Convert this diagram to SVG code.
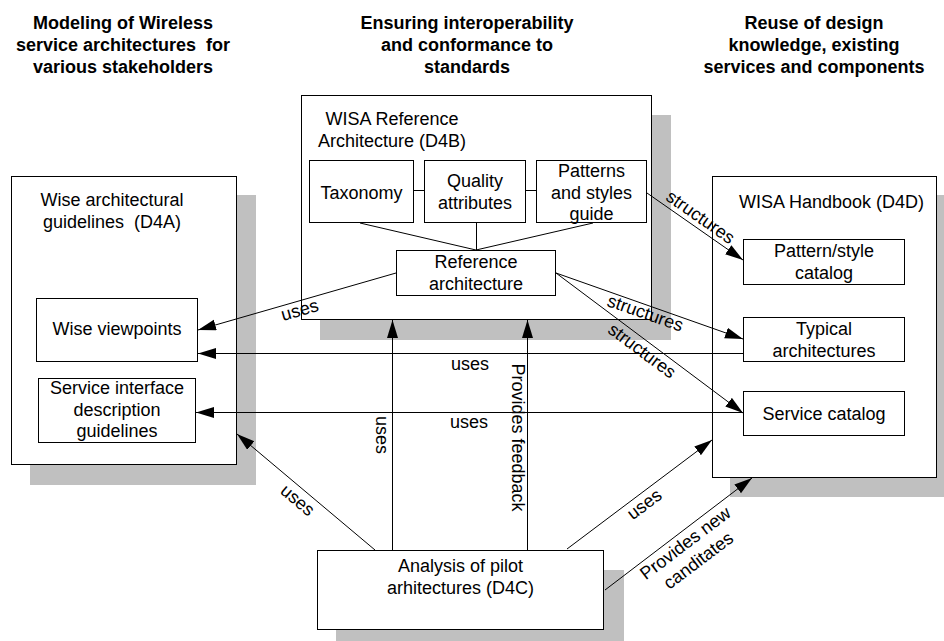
<svg xmlns="http://www.w3.org/2000/svg" width="944" height="641" viewBox="0 0 944 641">
<style>
text{font-family:"Liberation Sans",Arial,sans-serif;font-size:18px;fill:#000}
.h{font-weight:bold;text-anchor:middle}
.c{text-anchor:middle}
.box{fill:#fff;stroke:#000;stroke-width:1}
.sh{fill:#c0c0c0;stroke:none}
.ln{stroke:#000;stroke-width:1;fill:none}
.ar{stroke:#000;stroke-width:1;fill:none;marker-end:url(#ah)}
</style>
<defs>
<marker id="ah" markerUnits="userSpaceOnUse" markerWidth="19" markerHeight="12" refX="18" refY="5.5" orient="auto">
<path d="M0,0 L18,5.5 L0,11 Z" fill="#000"/>
</marker>
</defs>
<rect width="944" height="641" fill="#fff"/>

<g id="headings">
<text class="h" x="123" y="29">Modeling of Wireless</text>
<text class="h" x="123" y="51" style="white-space:pre">service architectures  for</text>
<text class="h" x="123" y="73">various stakeholders</text>
<text class="h" x="467" y="29">Ensuring interoperability</text>
<text class="h" x="467" y="51">and conformance to</text>
<text class="h" x="467" y="73">standards</text>
<text class="h" x="814" y="29">Reuse of design</text>
<text class="h" x="814" y="51">knowledge, existing</text>
<text class="h" x="814" y="73">services and components</text>
</g>

<g id="d4a">
<rect class="sh" x="30" y="195" width="226" height="290"/>
<rect class="box" x="11.5" y="176.5" width="225" height="288"/>
<text class="c" x="112" y="206">Wise architectural</text>
<text class="c" x="112" y="228" style="white-space:pre">guidelines  (D4A)</text>
</g>
<g id="viewpoints">
<rect class="box" x="36.5" y="298.5" width="161" height="63"/>
<text class="c" x="117" y="335">Wise viewpoints</text>
</g>
<g id="sidg">
<rect class="box" x="38.5" y="378.5" width="157" height="64"/>
<text class="c" x="117" y="394">Service interface</text>
<text class="c" x="117" y="415.5">description</text>
<text class="c" x="117" y="437">guidelines</text>
</g>

<g id="d4b">
<rect class="sh" x="320" y="115" width="351" height="225"/>
<rect class="box" x="301.5" y="95.5" width="350" height="224"/>
<text class="c" x="392" y="125">WISA Reference</text>
<text class="c" x="392" y="147">Architecture (D4B)</text>
</g>
<g id="inner-lines">
<line class="ln" x1="414" y1="190.5" x2="424" y2="190.5"/>
<line class="ln" x1="526" y1="190.5" x2="536" y2="190.5"/>
<line class="ln" x1="360" y1="223" x2="476" y2="250"/>
<line class="ln" x1="476.5" y1="223" x2="476.5" y2="250"/>
<line class="ln" x1="593" y1="223" x2="476" y2="250"/>
</g>
<g id="taxonomy">
<rect class="box" x="309.5" y="160.5" width="104" height="62"/>
<text class="c" x="361.5" y="199">Taxonomy</text>
</g>
<g id="quality">
<rect class="box" x="424.5" y="160.5" width="101" height="62"/>
<text class="c" x="475" y="187">Quality</text>
<text class="c" x="475" y="209">attributes</text>
</g>
<g id="patterns">
<rect class="box" x="536.5" y="160.5" width="110" height="62"/>
<text class="c" x="591.5" y="177">Patterns</text>
<text class="c" x="591.5" y="198.5">and styles</text>
<text class="c" x="591.5" y="220">guide</text>
</g>
<g id="refarch">
<rect class="box" x="396.5" y="250.5" width="159" height="45"/>
<text class="c" x="476" y="268">Reference</text>
<text class="c" x="476" y="289.5">architecture</text>
</g>

<g id="d4d">
<rect class="sh" x="730" y="195" width="226" height="302"/>
<rect class="box" x="712.5" y="176.5" width="224" height="301"/>
<text class="c" x="831.5" y="208">WISA Handbook (D4D)</text>
</g>
<g id="patcat">
<rect class="box" x="743.5" y="239.5" width="161" height="45"/>
<text class="c" x="824" y="257">Pattern/style</text>
<text class="c" x="824" y="279">catalog</text>
</g>
<g id="typical">
<rect class="box" x="743.5" y="317.5" width="161" height="44"/>
<text class="c" x="824" y="335">Typical</text>
<text class="c" x="824" y="356.5">architectures</text>
</g>
<g id="servcat">
<rect class="box" x="743.5" y="391.5" width="161" height="44"/>
<text class="c" x="824" y="420">Service catalog</text>
</g>

<g id="d4c">
<rect class="sh" x="336" y="570" width="288" height="80"/>
<rect class="box" x="317.5" y="550.5" width="286" height="79"/>
<text class="c" x="460.5" y="572">Analysis of pilot</text>
<text class="c" x="460.5" y="593.5">arhitectures (D4C)</text>
</g>

<g id="connectors">
<line class="ar" x1="396" y1="273" x2="198" y2="330"/>
<line class="ar" x1="743" y1="353.5" x2="198" y2="353.5"/>
<line class="ar" x1="743" y1="412.5" x2="196" y2="412.5"/>
<line class="ar" x1="647" y1="193" x2="743" y2="260"/>
<line class="ar" x1="556" y1="273" x2="743" y2="339"/>
<line class="ar" x1="556" y1="273" x2="743" y2="413"/>
<line class="ar" x1="392.5" y1="550" x2="392.5" y2="320"/>
<line class="ar" x1="527.5" y1="550" x2="527.5" y2="320"/>
<line class="ar" x1="375" y1="550" x2="237" y2="434"/>
<line class="ar" x1="567" y1="549" x2="712" y2="440"/>
<line class="ar" x1="605" y1="590" x2="752" y2="478"/>
</g>

<g id="labels">
<text class="c" transform="translate(301.4,315.8) rotate(-16)">uses</text>
<text class="c" x="470" y="370">uses</text>
<text class="c" x="469" y="428">uses</text>
<text class="c" transform="translate(697,222) rotate(35)">structures</text>
<text class="c" transform="translate(643.4,318.7) rotate(19.3)">structures</text>
<text class="c" transform="translate(638.5,355.5) rotate(36.7)">structures</text>
<text class="c" transform="translate(375.5,435) rotate(90)">uses</text>
<text class="c" transform="translate(512,437.5) rotate(90)">Provides feedback</text>
<text class="c" transform="translate(293.8,504.8) rotate(40)">uses</text>
<text class="c" transform="translate(648,509) rotate(-37)">uses</text>
<g transform="translate(689,548) rotate(-37)">
<text class="c" x="0" y="0">Provides new</text>
<text class="c" x="0" y="21.6">canditates</text>
</g>
</g>
</svg>
